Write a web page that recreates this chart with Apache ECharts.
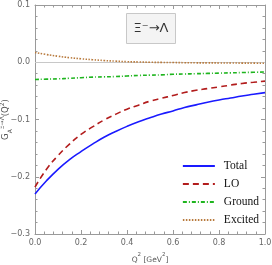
<!DOCTYPE html>
<html><head><meta charset="utf-8">
<script src="https://cdn.jsdelivr.net/npm/echarts@6/dist/echarts.min.js"></script>
<style>html,body{margin:0;padding:0;background:#fff}#c{width:272px;height:265px}</style>
</head><body><div id="c"></div>
<script>
const q2 = [0,0.05,0.1,0.15,0.2,0.25,0.3,0.35,0.4,0.45,0.5,0.55,0.6,0.65,0.7,0.75,0.8,0.85,0.9,0.95,1.0];
const total = [-0.230,-0.207,-0.187,-0.170,-0.156,-0.143,-0.131,-0.121,-0.112,-0.104,-0.097,-0.0905,-0.085,-0.079,-0.0745,-0.070,-0.066,-0.0625,-0.059,-0.056,-0.053];
const lo = [-0.218,-0.187,-0.163,-0.143,-0.126,-0.113,-0.101,-0.091,-0.082,-0.075,-0.068,-0.063,-0.058,-0.053,-0.049,-0.046,-0.043,-0.040,-0.037,-0.035,-0.033];
const ground = [-0.030,-0.0295,-0.029,-0.028,-0.027,-0.026,-0.0255,-0.025,-0.024,-0.023,-0.0225,-0.022,-0.021,-0.0205,-0.020,-0.0195,-0.019,-0.0185,-0.018,-0.0175,-0.017];
const excited = [0.017,0.0135,0.0105,0.008,0.006,0.0045,0.003,0.002,0.001,0.0005,0.0,-0.0003,-0.0005,-0.0008,-0.001,-0.0011,-0.0012,-0.0013,-0.0015,-0.0016,-0.0017];
const names = ['Total','LO','Ground','Excited'];
const xTicks = [0,0.2,0.4,0.6,0.8,1.0];
const yTicks = [-0.3,-0.2,-0.1,0.0,0.1];

const pair = a => q2.map((x,i)=>[x,a[i]]);
const axisGray = '#9a9a9a';
const fmt = v => (v<0?'\u2212':'') + Math.abs(v).toFixed(1);
const tickCommon = {
  axisLine:{show:true,onZero:false,lineStyle:{color:axisGray,width:1}},
  axisTick:{show:true,inside:true,length:4,lineStyle:{color:axisGray}},
  minorTick:{show:true,length:2.5,lineStyle:{color:axisGray}},
  splitLine:{show:false}
};
const yMinor = {minorTick:{show:true,splitNumber:5,length:2.5,lineStyle:{color:axisGray}}};
const chart = echarts.init(document.getElementById('c'),null,{renderer:'canvas'});
chart.setOption({
  animation:false,
  grid:{left:35,right:7,top:5,bottom:31,containLabel:false,outerBoundsMode:'none'},
  xAxis:[
    Object.assign({type:'value',min:0,max:1,interval:0.2,position:'bottom',
      name:'{a|Q}{s|2}{a| [GeV}{s|2}{a|]}',nameLocation:'middle',nameGap:18,nameMoveOverlap:false,
      nameTextStyle:{color:'#555',fontFamily:'DejaVu Sans',lineHeight:12,
        rich:{a:{fontSize:7.5,color:'#555',verticalAlign:'bottom',lineHeight:12},s:{fontSize:5.5,color:'#555',verticalAlign:'top',lineHeight:12}}},
      axisLabel:{color:'#666',fontSize:8,fontFamily:'DejaVu Sans',margin:5,formatter:v=>v.toFixed(1)}},tickCommon),
    Object.assign({type:'value',min:0,max:1,interval:0.2,position:'top',axisLabel:{show:false}},tickCommon)
  ],
  yAxis:[
    Object.assign({type:'value',min:-0.3,max:0.1,interval:0.1,position:'left',
      name:'{a|G}{sub|A}{sup|\u039E\u0304\u2192\u039B}{a|(Q}{sup|2}{a|)}',nameLocation:'middle',nameGap:22,nameRotate:90,nameMoveOverlap:false,
      nameTextStyle:{color:'#555',fontFamily:'DejaVu Sans',lineHeight:14,
        rich:{a:{fontSize:8.5,color:'#555',verticalAlign:'middle',lineHeight:14},
              sub:{fontSize:6,color:'#555',verticalAlign:'bottom',lineHeight:14},
              sup:{fontSize:6,color:'#555',verticalAlign:'top',lineHeight:14}}},
      axisLabel:{color:'#666',fontSize:8,fontFamily:'DejaVu Sans',margin:5,formatter:fmt,
        customValues:yTicks}},tickCommon,yMinor),
    Object.assign({type:'value',min:-0.3,max:0.1,interval:0.1,position:'right',axisLabel:{show:false}},tickCommon,yMinor)
  ],
  legend:{
    orient:'vertical',right:8,top:155,itemWidth:32,itemHeight:12,itemGap:6,
    itemStyle:{opacity:0},
    formatter:n=>'{t|'+n+'}',
    textStyle:{fontFamily:'Liberation Serif',fontSize:11.5,color:'#111',
      rich:{t:{fontFamily:'Liberation Serif',fontSize:11.5,color:'#111',padding:[0,0,0,4]}}},
    data:names
  },
  graphic:[{
    type:'group',left:126,top:13,
    children:[
      {type:'rect',shape:{x:0,y:0,width:49,height:30},style:{fill:'#f4f4f4',stroke:'#c8c8c8',lineWidth:1}},
      {type:'text',x:24.5,y:15,style:{text:'\u039E\u207B\u2192\u039B',fontSize:13,fontFamily:'DejaVu Sans',fill:'#333',align:'center',verticalAlign:'middle'}}
    ]
  }],
  series:[
    {name:names[0],type:'line',data:pair(total),smooth:true,showSymbol:false,symbol:'none',
      lineStyle:{color:'#1a1aff',width:1.6},itemStyle:{color:'#1a1aff'},
      markLine:{silent:true,symbol:'none',label:{show:false},lineStyle:{color:'#c8c8c8',width:1,type:'solid'},data:[{yAxis:0}],z:1}},
    {name:names[1],type:'line',data:pair(lo),smooth:true,showSymbol:false,symbol:'none',
      lineStyle:{color:'#b21c1c',width:1.6,type:[6,4]},itemStyle:{color:'#b21c1c'}},
    {name:names[2],type:'line',data:pair(ground),smooth:true,showSymbol:false,symbol:'none',
      lineStyle:{color:'#1fb51f',width:1.6,type:[4,2,1,2]},itemStyle:{color:'#1fb51f'}},
    {name:names[3],type:'line',data:pair(excited),smooth:true,showSymbol:false,symbol:'none',
      lineStyle:{color:'#b87a3d',width:1.6,type:[1.5,1.5]},itemStyle:{color:'#b87a3d'}}
  ]
});
</script></body></html>
